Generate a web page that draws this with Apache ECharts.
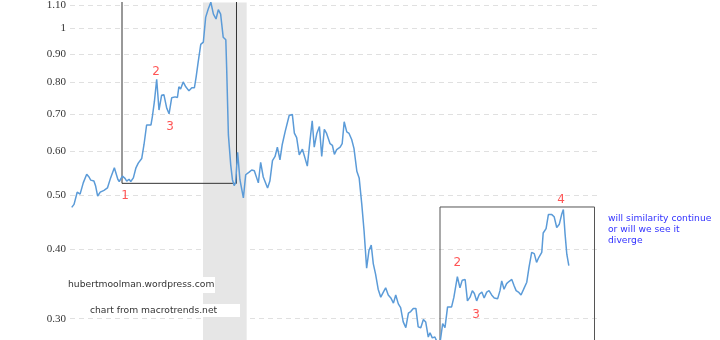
<!DOCTYPE html>
<html><head><meta charset="utf-8">
<script src="https://cdn.jsdelivr.net/npm/echarts@6/dist/echarts.min.js"></script>
<style>html,body{margin:0;padding:0;background:#fff}#c{width:720px;height:340px}</style>
</head><body><div id="c"></div>
<script>
const years = [2003.06,2003.14,2003.25,2003.35,2003.46,2003.58,2003.66,2003.72,2003.83,2003.89,2003.96,2004.05,2004.18,2004.30,2004.41,2004.54,2004.59,2004.66,2004.71,2004.82,2004.91,2004.97,2005.05,2005.11,2005.20,2005.29,2005.37,2005.49,2005.57,2005.66,2005.81,2005.86,2005.93,2006.01,2006.09,2006.18,2006.26,2006.36,2006.44,2006.53,2006.65,2006.73,2006.78,2006.84,2006.93,2007.02,2007.13,2007.23,2007.32,2007.38,2007.45,2007.54,2007.63,2007.71,2007.80,2007.89,2007.98,2008.07,2008.15,2008.23,2008.32,2008.41,2008.44,2008.50,2008.58,2008.64,2008.70,2008.75,2008.82,2008.90,2009.02,2009.10,2009.22,2009.31,2009.40,2009.45,2009.54,2009.62,2009.71,2009.77,2009.86,2009.94,2010.03,2010.12,2010.20,2010.29,2010.37,2010.47,2010.61,2010.72,2010.79,2010.87,2010.96,2011.07,2011.16,2011.24,2011.33,2011.41,2011.48,2011.57,2011.66,2011.74,2011.83,2011.91,2012.03,2012.11,2012.18,2012.26,2012.38,2012.45,2012.52,2012.61,2012.69,2012.78,2012.86,2012.96,2013.04,2013.13,2013.21,2013.30,2013.38,2013.46,2013.53,2013.61,2013.70,2013.79,2013.88,2013.96,2014.05,2014.14,2014.23,2014.31,2014.40,2014.48,2014.57,2014.66,2014.75,2014.83,2014.92,2015.01,2015.09,2015.18,2015.27,2015.35,2015.44,2015.50,2015.58,2015.67,2015.75,2015.85,2015.94,2016.02,2016.11,2016.25,2016.33,2016.45,2016.54,2016.62,2016.72,2016.80,2016.89,2016.97,2017.04,2017.12,2017.21,2017.30,2017.38,2017.47,2017.55,2017.64,2017.73,2017.85,2017.93,2017.99,2018.07,2018.16,2018.24,2018.34,2018.42,2018.49,2018.57,2018.66,2018.74,2018.86,2018.94,2019.03,2019.12,2019.20,2019.28,2019.38,2019.43,2019.53,2019.61,2019.73,2019.81,2019.90,2019.99,2020.07,2020.13,2020.19,2020.25,2020.32];
const values = [0.476,0.482,0.507,0.503,0.527,0.546,0.540,0.533,0.531,0.520,0.499,0.507,0.511,0.516,0.538,0.561,0.557,0.535,0.530,0.542,0.537,0.531,0.535,0.530,0.538,0.561,0.572,0.583,0.618,0.670,0.670,0.694,0.738,0.810,0.713,0.758,0.760,0.718,0.702,0.750,0.753,0.751,0.785,0.778,0.801,0.785,0.772,0.782,0.782,0.818,0.870,0.936,0.945,1.047,1.084,1.115,1.061,1.040,1.081,1.061,0.964,0.954,0.847,0.643,0.568,0.534,0.521,0.527,0.598,0.534,0.495,0.545,0.551,0.556,0.554,0.558,0.527,0.574,0.540,0.538,0.516,0.531,0.578,0.588,0.611,0.580,0.618,0.652,0.697,0.700,0.648,0.636,0.592,0.606,0.584,0.565,0.626,0.682,0.611,0.647,0.666,0.588,0.658,0.647,0.620,0.616,0.593,0.605,0.611,0.620,0.679,0.651,0.647,0.631,0.608,0.553,0.538,0.483,0.432,0.370,0.398,0.407,0.377,0.361,0.339,0.328,0.335,0.341,0.331,0.327,0.320,0.331,0.319,0.314,0.296,0.289,0.307,0.309,0.313,0.313,0.290,0.289,0.299,0.296,0.278,0.283,0.277,0.278,0.272,0.272,0.294,0.289,0.315,0.315,0.328,0.357,0.341,0.352,0.353,0.323,0.328,0.337,0.333,0.323,0.332,0.335,0.327,0.335,0.337,0.331,0.327,0.326,0.337,0.351,0.339,0.347,0.350,0.353,0.344,0.337,0.335,0.331,0.338,0.349,0.372,0.395,0.393,0.379,0.387,0.395,0.428,0.436,0.462,0.462,0.458,0.438,0.444,0.462,0.472,0.426,0.392,0.374];
const yTicks = [0.3,0.4,0.5,0.6,0.7,0.8,0.9,1,1.1];
const recession = [2007.618, 2009.135];
const box1X = [2004.806, 2008.781];
const box1Y = [0.526, 1.6];
const box2X = [2015.847, 2021.212];
const box2Y = [0.2, 0.4768];
const markerText = ['1','2','3','2','3','4'];
const markerX = [2004.91, 2005.986, 2006.472, 2016.448, 2017.097, 2020.049];
const markerY = [0.499, 0.835, 0.666, 0.378, 0.305, 0.491];

const lineData = years.map((y, i) => [y, values[i]]);
function boxPath(bx, by, openTop) {
  if (openTop) return [[bx[0], by[1]], [bx[0], by[0]], [bx[1], by[0]], [bx[1], by[1]]];
  return [[bx[0], by[0]], [bx[0], by[1]], [bx[1], by[1]], [bx[1], by[0]]];
}
const chart = echarts.init(document.getElementById('c'), null, {renderer: 'canvas'});
chart.setOption({
  animation: false,
  backgroundColor: '#fff',
  grid: {left: 70, right: 122, top: 0, bottom: 0},
  xAxis: {type: 'value', min: 2003, max: 2021.333, show: false},
  yAxis: {
    type: 'log', logBase: 10, min: 0.2746, max: 1.114,
    axisLine: {show: false},
    axisTick: {show: false, customValues: yTicks},
    axisLabel: {
      customValues: yTicks, margin: 4,
      fontFamily: 'Liberation Serif', fontSize: 11, color: '#333',
      formatter: v => Math.abs(v - 1) < 1e-9 ? '1' : (+v).toFixed(2)
    },
    splitLine: {show: true, lineStyle: {color: '#e0e0e0', width: 1, type: [5, 4]}}
  },
  series: [
    {
      type: 'line', data: lineData, showSymbol: false, clip: true, silent: true,
      lineStyle: {color: '#5b9bd8', width: 1.5}, z: 5,
      markArea: {silent: true, itemStyle: {color: '#e6e6e6'}, data: [[{xAxis: recession[0]}, {xAxis: recession[1]}]], z: 1}
    },
    {type: 'line', data: boxPath(box1X, box1Y, true), showSymbol: false, clip: true, silent: true,
     lineStyle: {color: '#333', width: 1}, z: 4},
    {type: 'line', data: boxPath(box2X, box2Y, false), showSymbol: false, clip: true, silent: true,
     lineStyle: {color: '#555', width: 1}, z: 4},
    {type: 'scatter', silent: true, symbolSize: 1, itemStyle: {color: 'rgba(0,0,0,0)'},
     data: markerX.map((x, i) => ({value: [x, markerY[i]], name: markerText[i]})),
     label: {show: true, position: 'inside', formatter: p => p.name, color: '#ff2b2b',
             fontFamily: 'DejaVu Sans', fontSize: 12}, z: 6}
  ],
  graphic: [
    {type: 'rect', z: 100, shape: {x: 66, y: 277, width: 149, height: 16}, style: {fill: '#fff'}},
    {type: 'text', z: 101, x: 68, y: 285, style: {text: 'hubertmoolman.wordpress.com', fill: '#333', font: '9.2px "DejaVu Sans"', verticalAlign: 'middle'}},
    {type: 'rect', z: 100, shape: {x: 87, y: 304, width: 153, height: 13}, style: {fill: '#fff'}},
    {type: 'text', z: 101, x: 90, y: 310.5, style: {text: 'chart from macrotrends.net', fill: '#333', font: '9.2px "DejaVu Sans"', verticalAlign: 'middle'}},
    {type: 'text', z: 101, x: 608, y: 212.5, style: {text: 'will similarity continue\nor will we see it\ndiverge', fill: '#3333ff', font: '9.2px "DejaVu Sans"', lineHeight: 11.3, verticalAlign: 'top'}}
  ]
});
</script></body></html>
